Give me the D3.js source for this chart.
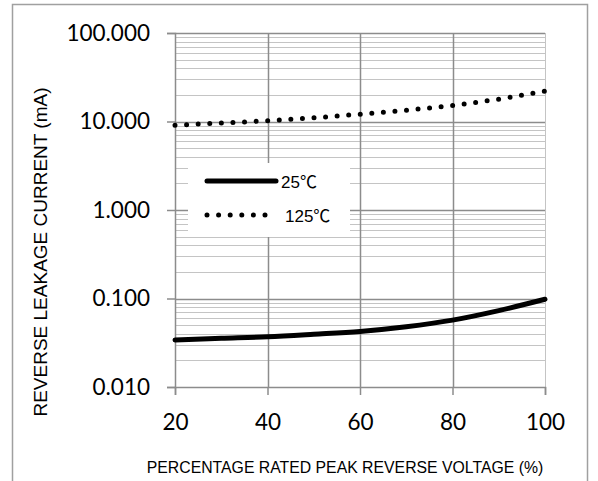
<!DOCTYPE html>
<html>
<head>
<meta charset="utf-8">
<script src="https://cdn.jsdelivr.net/npm/d3@7"></script>
<style>
  body { margin: 0; background: #fff; }
  svg { display: block; }
</style>
</head>
<body>
<svg width="598" height="481"></svg>
<script>
// values
const voltage = [20, 30, 40, 50, 60, 70, 80, 90, 100];
const current25 = [0.034, 0.0355, 0.037, 0.0395, 0.0425, 0.048, 0.057, 0.073, 0.098];
const current125 = [9.1, 9.6, 10.2, 11.0, 12.1, 13.4, 15.2, 17.9, 22.1];
const xTicks = [20, 40, 60, 80, 100];
const yTicks = [0.01, 0.1, 1, 10, 100];
const seriesNames = ["25℃", "125℃"];

let svg = d3.select("svg");

let area = { left: 175, right: 545, top: 33, bottom: 387 };

// outer frame (open at the bottom, runs past the picture)
svg.append("rect")
    .attr("x", 12.5).attr("y", 4.5)
    .attr("width", 575).attr("height", 500)
    .attr("fill", "none")
    .attr("stroke", "#a0a0a0")
    .attr("stroke-width", 1.5);

let scX = d3.scaleLinear().domain([20, 100]).range([area.left, area.right]);
let scY = d3.scaleLog().domain([0.01, 100]).range([area.bottom, area.top]);

// minor grid
let minor = [];
for (let dec = 0.01; dec < 100; dec *= 10) {
    for (let k = 2; k <= 9; k++) minor.push(dec * k);
}
svg.append("g").selectAll("line")
    .data(minor)
    .enter()
    .append("line")
    .attr("x1", area.left).attr("x2", area.right)
    .attr("y1", d => Math.round(scY(d)) + 0.5)
    .attr("y2", d => Math.round(scY(d)) + 0.5)
    .attr("stroke", "#c4c4c4")
    .attr("stroke-width", 1);

// right border
svg.append("line")
    .attr("x1", area.right + 0.5).attr("x2", area.right + 0.5)
    .attr("y1", area.top).attr("y2", area.bottom)
    .attr("stroke", "#c4c4c4");

// major grid
svg.append("g").selectAll("line")
    .data(yTicks.slice(1))
    .enter()
    .append("line")
    .attr("x1", area.left).attr("x2", area.right)
    .attr("y1", d => Math.round(scY(d)) + 0.5)
    .attr("y2", d => Math.round(scY(d)) + 0.5)
    .attr("stroke", "#8c8c8c")
    .attr("stroke-width", 1.5);

svg.append("g").selectAll("line")
    .data(xTicks.slice(1, -1))
    .enter()
    .append("line")
    .attr("x1", d => Math.round(scX(d)) + 0.5)
    .attr("x2", d => Math.round(scX(d)) + 0.5)
    .attr("y1", area.top).attr("y2", area.bottom)
    .attr("stroke", "#8c8c8c")
    .attr("stroke-width", 1.5);

// axes
let axisY = d3.axisLeft(scY)
    .tickValues(yTicks)
    .tickSize(8)
    .tickPadding(17)
    .tickFormat(d3.format(".3f"));
let gy = svg.append("g")
    .attr("transform", `translate(${area.left},0)`)
    .call(axisY);

let axisX = d3.axisBottom(scX)
    .tickValues(xTicks)
    .tickSize(8)
    .tickPadding(19);
let gx = svg.append("g")
    .attr("transform", `translate(0,${area.bottom})`)
    .call(axisX);

[gx, gy].forEach(g => {
    g.select(".domain").attr("stroke", "#8c8c8c").attr("stroke-width", 1.5);
    g.selectAll(".tick line").attr("stroke", "#8c8c8c").attr("stroke-width", 1.5);
    g.selectAll(".tick text")
        .attr("fill", "#000")
        .style("font-family", "Lato, 'Open Sans', sans-serif")
        .style("font-size", "22.5px");
});

// legend box
svg.append("rect")
    .attr("x", 188).attr("y", 163)
    .attr("width", 162).attr("height", 74)
    .attr("fill", "#fff");

// series
let line = d3.line()
    .x(d => scX(d[0]))
    .y(d => scY(d[1]))
    .curve(d3.curveMonotoneX);

svg.append("path")
    .datum(voltage.map((v, i) => [v, current25[i]]))
    .attr("fill", "none")
    .attr("stroke", "#000")
    .attr("stroke-width", 5)
    .attr("stroke-linecap", "round")
    .attr("d", line);

svg.append("path")
    .datum(voltage.map((v, i) => [v, current125[i]]))
    .attr("fill", "none")
    .attr("stroke", "#000")
    .attr("stroke-width", 5)
    .attr("stroke-linecap", "round")
    .attr("stroke-dasharray", "0 11.6")
    .attr("d", line);

// legend entries
let lg = svg.append("g");
lg.append("line")
    .attr("x1", 207).attr("x2", 276)
    .attr("y1", 181).attr("y2", 181)
    .attr("stroke", "#000").attr("stroke-width", 5)
    .attr("stroke-linecap", "round");
lg.append("line")
    .attr("x1", 207).attr("x2", 270)
    .attr("y1", 215).attr("y2", 215)
    .attr("stroke", "#000").attr("stroke-width", 5)
    .attr("stroke-linecap", "round")
    .attr("stroke-dasharray", "0 11.6");
lg.selectAll("text")
    .data(seriesNames)
    .enter()
    .append("text")
    .attr("x", (d, i) => i === 0 ? 281 : 285)
    .attr("y", (d, i) => i === 0 ? 188 : 222)
    .style("font-family", "'Liberation Sans', 'Noto Sans CJK SC', sans-serif")
    .style("font-size", "17px")
    .text(d => d);

// axis titles
svg.append("text")
    .attr("transform", "translate(47,252) rotate(-90)")
    .attr("text-anchor", "middle")
    .style("font-family", "'Liberation Sans', Arial, sans-serif")
    .style("font-size", "19px")
    .text("REVERSE LEAKAGE CURRENT (mA)");

svg.append("text")
    .attr("x", 345).attr("y", 473)
    .attr("text-anchor", "middle")
    .style("font-family", "'Liberation Sans', Arial, sans-serif")
    .style("font-size", "15.8px")
    .text("PERCENTAGE RATED PEAK REVERSE VOLTAGE (%)");
</script>
</body>
</html>
